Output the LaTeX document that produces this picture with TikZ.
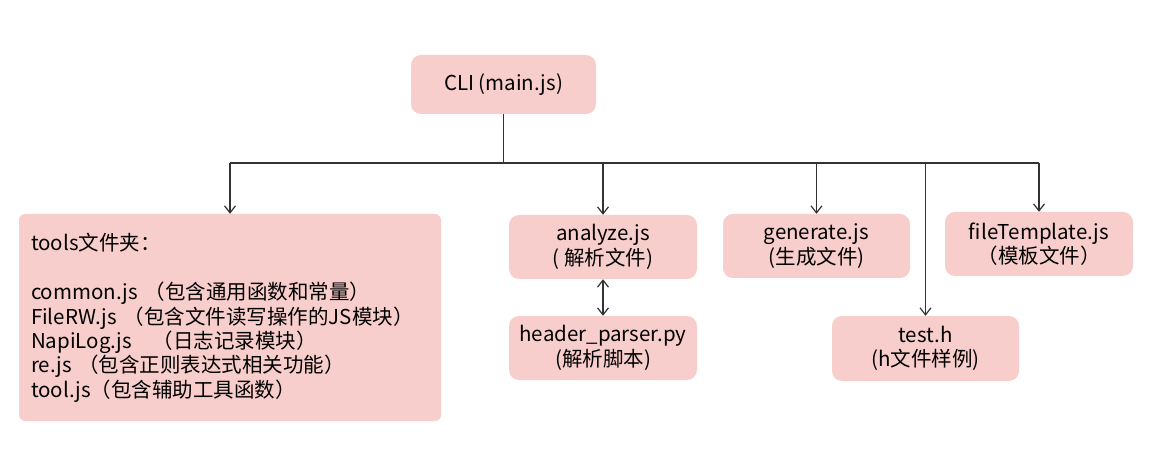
\documentclass[tikz,border=0pt]{standalone}
\usepackage{fontspec}
\setmainfont{Noto Sans CJK SC}
\usetikzlibrary{arrows.meta}

\definecolor{boxfill}{HTML}{F8CECC}
\definecolor{wire}{HTML}{333333}

\tikzset{
  filebox/.style={fill=boxfill, rounded corners=10pt, align=center, inner sep=0pt,
    font=\fontsize{20.5}{24.4}\selectfont},
  bus/.style={draw=wire, line width=1.2pt},
  link/.style={bus, -{Straight Barb[length=7pt,width=11pt]}},
  twoway/.style={bus, {Straight Barb[length=7pt,width=11pt]}-{Straight Barb[length=7pt,width=11pt]}},
}

\begin{document}
\begin{tikzpicture}[x=1pt,y=-1pt]
\useasboundingbox (0,0) rectangle (1152,449);

% Entry point
\node[filebox, minimum width=185pt, minimum height=59pt] (cli) at (503.5,84.5) {CLI (main.js)};

% Tools folder
\node[filebox, rounded corners=6pt, minimum width=422pt, minimum height=207pt,
      text width=398pt, align=left] (tools) at (230,317.5)
    {tools文件夹：\\[25pt]
     common.js （包含通用函数和常量）\\
     FileRW.js （包含文件读写操作的JS模块）\\
     NapiLog.js\quad（日志记录模块）\\
     re.js （包含正则表达式相关功能）\\
     tool.js（包含辅助工具函数）};

% Modules
\node[filebox, minimum width=188pt, minimum height=64pt] (analyze) at (603,247) {analyze.js\\( 解析文件)};
\node[filebox, minimum width=188pt, minimum height=64pt] (parser) at (603,348) {header\_parser.py\\(解析脚本)};
\node[filebox, minimum width=187pt, minimum height=64pt] (generate) at (816.5,246) {generate.js\\(生成文件)};
\node[filebox, minimum width=187pt, minimum height=65pt] (testh) at (925.5,348.5) {test.h\\(h文件样例)};
\node[filebox, minimum width=188pt, minimum height=64pt] (tmpl) at (1039,244) {fileTemplate.js\\（模板文件）};

% Connectors
\coordinate (hub) at (505,163);
\draw[bus] (cli) -- (cli |- hub);
\draw[bus] (tools.north |- hub) -- (tmpl.north |- hub);
\foreach \n in {tools, analyze, generate, testh, tmpl} {
    \draw[link] (\n.north |- hub) -- (\n.north);
}
\draw[twoway] (analyze) -- (parser);

\end{tikzpicture}
\end{document}
